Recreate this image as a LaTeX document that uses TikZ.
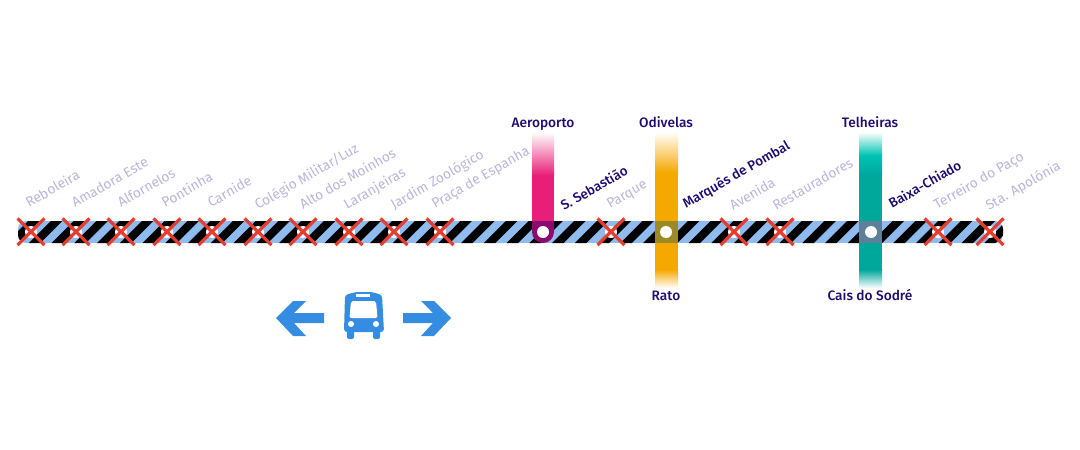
\documentclass[tikz,border=0pt]{standalone}
\usepackage{fontspec}
\setmainfont{Fira Sans}
\newfontfamily\namefont{Fira Sans Medium}
\definecolor{stripeblue}{HTML}{8FBBEE}
\definecolor{closedtext}{HTML}{B9B5DA}
\definecolor{opentext}{HTML}{1F0A70}
\definecolor{crossred}{HTML}{E53D30}
\definecolor{buscolor}{HTML}{348DE0}
\definecolor{redline}{HTML}{E81F78}
\definecolor{redmix}{HTML}{8A0A6E}
\definecolor{yellowline}{HTML}{F5A800}
\definecolor{yellowmix}{HTML}{9C8A25}
\definecolor{greenline}{HTML}{00A79B}
\definecolor{greenlight}{HTML}{00C4B3}
\definecolor{greenmix}{HTML}{5E7F9A}
\tikzset{
  closedname/.style={anchor=base west,rotate=30,font=\fontsize{13.8}{14}\selectfont,text=closedtext,inner sep=0pt},
  openname/.style={anchor=base west,rotate=30,font=\namefont\fontsize{13.5}{14}\selectfont,text=opentext,inner sep=0pt},
  endname/.style={anchor=base,font=\namefont\fontsize{13.7}{15}\selectfont,text=opentext,inner sep=0pt},
  stationdot/.style={circle,fill=white,minimum size=12pt,inner sep=0pt},
  crossmark/.style={draw=crossred,line width=3.2pt}
}
\begin{document}
\begin{tikzpicture}[x=1pt,y=-1pt]
\useasboundingbox (0,0) rectangle (1080,450);

% Strip
\begin{scope}
\clip[rounded corners=8pt] (18,221) rectangle (1003,243);
\fill[stripeblue] (18,221) rectangle (1003,243);
\foreach \x in {-1,0,...,44}
  \fill[black] ({6.1+22.75*\x},243) -- ({17.7+22.75*\x},243) -- ({39.7+22.75*\x},221) -- ({28.1+22.75*\x},221) -- cycle;
\end{scope}

% Crossing lines
\shade[top color=white,bottom color=redline] (532,132) rectangle (554,175.5);
\fill[redline] (532,175) rectangle (554,221);
\fill[redmix] (532,221) -- (554,221) -- (554,232) arc[start angle=0,end angle=-180,radius=11pt] -- cycle;
\shade[top color=white,bottom color=yellowline] (655,132) rectangle (678,172.5);
\fill[yellowline] (655,172) rectangle (678,270);
\shade[top color=yellowline,bottom color=white] (655,269.5) rectangle (678,288);
\fill[yellowmix] (655,221) rectangle (678,243);
\shade[top color=white,bottom color=greenlight] (859,132) rectangle (882,155.5);
\shade[top color=greenlight,bottom color=greenline] (859,155) rectangle (882,175.5);
\fill[greenline] (859,175) rectangle (882,270);
\shade[top color=greenline,bottom color=white] (859,269.5) rectangle (882,288);
\fill[greenmix] (859,221) rectangle (882,243);

% Stations
\foreach \n/\x in {reboleira/31,amadora/76,alfornelos/121,pontinha/167,carnide/212,colegio/258,alto/303,laranjeiras/349,jardim/394,praca/440,parque/611,avenida/734,restauradores/780,terreiro/938,apolonia/990}
  \node[stationdot] (\n) at (\x,232) {};
\node[stationdot] (sebastiao) at (543,232) {};
\node[stationdot] (marques) at (666,232) {};
\node[stationdot] (baixa) at (871,232) {};

% Crosses
\foreach \x in {31,76,121,167,212,258,303,349,394,440,611,734,780,938,990}
  \draw[crossmark] ({\x-13.5},218.5) -- ({\x+13.5},245) ({\x-13.5},245) -- ({\x+13.5},218.5);

% Names
\node[closedname] at (29,208) {Reboleira};
\node[closedname] at (75,208) {Amadora Este};
\node[closedname] at (121,208) {Alfornelos};
\node[closedname] at (165,208) {Pontinha};
\node[closedname] at (211,208) {Carnide};
\node[closedname] at (258,210) {Colégio Militar/Luz};
\node[closedname] at (303,210) {Alto dos Moinhos};
\node[closedname] at (347,210) {Laranjeiras};
\node[closedname] at (394,210) {Jardim Zoológico};
\node[closedname] at (435,209) {Praça de Espanha};
\node[openname] at (564,211) {S. Sebastião};
\node[closedname] at (610,209) {Parque};
\node[openname] at (686,209) {Marquês de Pombal};
\node[closedname] at (733,211) {Avenida};
\node[closedname] at (776,211) {Restauradores};
\node[openname] at (892,209) {Baixa-Chiado};
\node[closedname] at (937,210) {Terreiro do Paço};
\node[closedname] at (989,211) {Sta. Apolónia};

\node[endname] at (543,127) {Aeroporto};
\node[endname] at (666,127) {Odivelas};
\node[endname] at (666,300) {Rato};
\node[endname] at (870,127) {Telheiras};
\node[endname] at (870,300) {Cais do Sodré};

% Bus and arrows
\fill[buscolor] (276,318) -- (293,301) -- (306,301) -- (294,313) -- (324,313) -- (324,323) -- (294,323) -- (306,336) -- (293,336) -- cycle;
\fill[buscolor] (451,318) -- (434,301) -- (421,301) -- (433,313) -- (403,313) -- (403,323) -- (433,323) -- (421,336) -- (434,336) -- cycle;
\fill[buscolor,rounded corners=3pt] (345,295) -- (356,292) -- (372,292) -- (382,295) -- (384,332) -- (344,332) -- cycle;
\fill[buscolor,rounded corners=2pt] (347,330) rectangle (354,339);
\fill[buscolor,rounded corners=2pt] (373,330) rectangle (380,339);
\fill[white,rounded corners=2pt] (351,301) -- (376,301) -- (377.5,318) -- (349.5,318) -- cycle;
\fill[white] (356,294) rectangle (370,297);
\fill[white] (351,324) circle[radius=3pt];
\fill[white] (376,324) circle[radius=3pt];
\end{tikzpicture}
\end{document}
